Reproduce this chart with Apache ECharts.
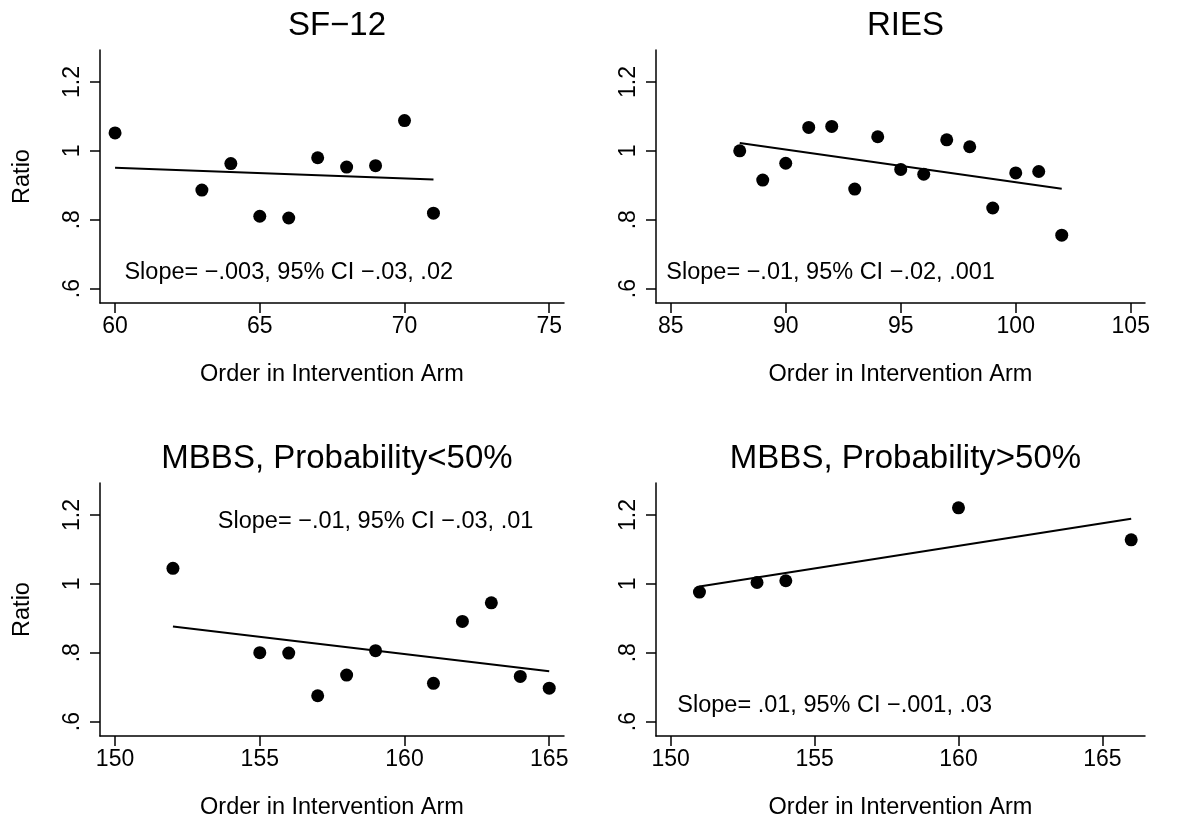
<!DOCTYPE html>
<html>
<head>
<meta charset="utf-8">
<script src="https://cdn.jsdelivr.net/npm/echarts@6/dist/echarts.min.js"></script>
<style>
html,body{margin:0;padding:0;background:#fff;}
#c{width:1186px;height:825px;}
</style>
</head>
<body>
<div id="c"></div>
<script>
// ---- Data ----
var panelTitles = ['SF\u221212', 'RIES', 'MBBS, Probability<50%', 'MBBS, Probability>50%'];

var sf12X = [60, 63, 64, 65, 66, 67, 68, 69, 70, 71];
var sf12Y = [1.052, 0.886, 0.963, 0.810, 0.805, 0.980, 0.953, 0.957, 1.088, 0.819];
var sf12FitX = [60, 71];
var sf12FitY = [0.951, 0.917];

var riesX = [88, 89, 90, 91, 92, 93, 94, 95, 96, 97, 98, 99, 100, 101, 102];
var riesY = [1.000, 0.915, 0.964, 1.068, 1.071, 0.889, 1.041, 0.946, 0.932, 1.032, 1.012, 0.834, 0.936, 0.940, 0.755];
var riesFitX = [88, 102];
var riesFitY = [1.023, 0.890];

var lowX = [152, 155, 156, 157, 158, 159, 161, 162, 163, 164, 165];
var lowY = [1.045, 0.800, 0.799, 0.675, 0.735, 0.806, 0.711, 0.891, 0.945, 0.731, 0.697];
var lowFitX = [152, 165];
var lowFitY = [0.876, 0.746];

var highX = [151, 153, 154, 160, 166];
var highY = [0.976, 1.004, 1.009, 1.221, 1.128];
var highFitX = [151, 166];
var highFitY = [0.992, 1.189];

var slopeTexts = [
  'Slope= \u2212.003, 95% CI \u2212.03, .02',
  'Slope= \u2212.01, 95% CI \u2212.02, .001',
  'Slope= \u2212.01, 95% CI \u2212.03, .01',
  'Slope= .01, 95% CI \u2212.001, .03'
];
var slopeTextX = [66, 91.95, 159, 155.7];
var slopeTextY = [0.647, 0.647, 1.18, 0.647];

var yTickValues = [0.6, 0.8, 1, 1.2];
var yTickLabels = ['.6', '.8', '1', '1.2'];
var xTickValues = [
  [60, 65, 70, 75],
  [85, 90, 95, 100, 105],
  [150, 155, 160, 165],
  [150, 155, 160, 165]
];
var xRanges = [[59.48, 75.51], [84.36, 105.62], [149.48, 165.51], [149.49, 166.48]];
var yRange = [0.558, 1.293];
var xTitle = 'Order in Intervention Arm';
var yTitle = 'Ratio';

// ---- Build ----
var FONT = "'Liberation Sans', Arial, Helvetica, sans-serif";
var grids = [
  {left: 100, top: 50, width: 464, height: 253},
  {left: 656, top: 50, width: 489, height: 253},
  {left: 100, top: 483, width: 464, height: 253},
  {left: 656, top: 483, width: 489, height: 253}
];
var xs = [sf12X, riesX, lowX, highX];
var ys = [sf12Y, riesY, lowY, highY];
var fxs = [sf12FitX, riesFitX, lowFitX, highFitX];
var fys = [sf12FitY, riesFitY, lowFitY, highFitY];

function zip(a, b) { return a.map(function (v, i) { return [v, b[i]]; }); }

var axisLineStyle = {color: '#000', width: 1.5};
var xAxes = [], yAxes = [], series = [], titles = [];
for (var i = 0; i < 4; i++) {
  var g = grids[i];
  titles.push({
    text: panelTitles[i],
    left: g.left + g.width / 2,
    top: (i < 2 ? 4 : 437),
    textAlign: 'center',
    textStyle: {fontFamily: FONT, fontSize: 33, fontWeight: 'normal', color: '#000'}
  });
  xAxes.push({
    type: 'value', gridIndex: i,
    min: xRanges[i][0], max: xRanges[i][1],
    name: xTitle, nameLocation: 'middle', nameGap: 60,
    nameTextStyle: {fontFamily: FONT, fontSize: 23.5, color: '#000'},
    axisLine: {show: true, onZero: false, lineStyle: axisLineStyle},
    axisTick: {show: true, length: 10, customValues: xTickValues[i], lineStyle: axisLineStyle},
    axisLabel: {customValues: xTickValues[i], margin: 12, fontFamily: FONT, fontSize: 23, color: '#000'},
    splitLine: {show: false}
  });
  yAxes.push({
    type: 'value', gridIndex: i,
    min: yRange[0], max: yRange[1],
    name: (i % 2 === 0 ? yTitle : ''), nameLocation: 'middle', nameGap: 65, nameRotate: 90,
    nameTextStyle: {fontFamily: FONT, fontSize: 23.5, color: '#000'},
    axisLine: {show: true, onZero: false, lineStyle: axisLineStyle},
    axisTick: {show: true, length: 10, customValues: yTickValues, lineStyle: axisLineStyle},
    axisLabel: {
      customValues: yTickValues, rotate: 90, margin: 16,
      fontFamily: FONT, fontSize: 23, color: '#000',
      formatter: function (v) {
        for (var k = 0; k < yTickValues.length; k++) {
          if (Math.abs(yTickValues[k] - v) < 1e-9) return yTickLabels[k];
        }
        return '';
      }
    },
    splitLine: {show: false}
  });
  series.push({
    type: 'line', xAxisIndex: i, yAxisIndex: i,
    data: zip(fxs[i], fys[i]), showSymbol: false, symbol: 'none',
    lineStyle: {color: '#000', width: 2}, silent: true, z: 2
  });
  series.push({
    type: 'scatter', xAxisIndex: i, yAxisIndex: i,
    data: zip(xs[i], ys[i]), symbol: 'circle', symbolSize: 13,
    itemStyle: {color: '#000', opacity: 1}, z: 3
  });
  series.push({
    type: 'scatter', xAxisIndex: i, yAxisIndex: i,
    data: [[slopeTextX[i], slopeTextY[i]]], symbolSize: 0, silent: true,
    itemStyle: {opacity: 1},
    label: {
      show: true, position: 'inside', formatter: (function (t) { return function () { return t; }; })(slopeTexts[i]),
      fontFamily: FONT, fontSize: 23.5, color: '#000'
    },
    z: 4
  });
}

var chart = echarts.init(document.getElementById('c'), null, {renderer: 'canvas'});
chart.setOption({
  backgroundColor: '#fff',
  animation: false,
  title: titles,
  grid: grids,
  xAxis: xAxes,
  yAxis: yAxes,
  series: series
});
</script>
</body>
</html>
